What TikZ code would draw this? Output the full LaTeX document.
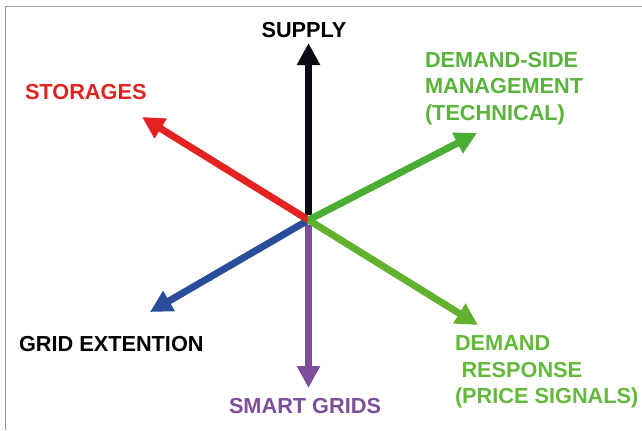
\documentclass[tikz,border=0pt]{standalone}
\usepackage{fontspec}
\setmainfont{Liberation Sans}
\usetikzlibrary{arrows.meta}
\definecolor{cred}{HTML}{E32322}
\definecolor{cblack}{HTML}{0A0A14}
\definecolor{cgreenA}{HTML}{4BAE34}
\definecolor{cgreenB}{HTML}{62B22F}
\definecolor{cblue}{HTML}{2A4D9B}
\definecolor{cpurple}{HTML}{7D4F9B}
\definecolor{tgreenA}{HTML}{5AB43C}
\definecolor{tgreenB}{HTML}{63B93A}
\definecolor{cframe}{HTML}{9A9A9A}
\tikzset{
  arrowline/.style={line width=7bp, -{Triangle[length=22bp,width=22bp]}},
  lbl/.style={inner sep=0pt, outer sep=0pt, font=\fontsize{21.8}{26.3}\selectfont\bfseries, align=left},
}
\begin{document}
\begin{tikzpicture}[x=1bp,y=-1bp]
\useasboundingbox (0,0) rectangle (642,430);
\fill[white] (0,0) rectangle (642,430);
\draw[cframe, line width=1.6bp] (5.5,430) -- (5.5,6.5) -- (642,6.5);
\coordinate (c) at (308.5,220);
\coordinate (tsup) at (308.5,43);
\coordinate (tsto) at (142,117);
\coordinate (tdsm) at (477,133);
\coordinate (tdr) at (478,325);
\coordinate (tgrid) at (150,312);
\coordinate (tsmart) at (308.5,388);
\draw[arrowline, cblack, shorten <=5bp] (c) -- (tsup);
\draw[arrowline, cpurple, shorten <=5bp] (c) -- (tsmart);
\draw[arrowline, cblue] (c) -- (tgrid);
\draw[arrowline, cred] (c) -- (tsto);
\draw[arrowline, cgreenB] (c) -- (tdr);
\draw[arrowline, cgreenA] (c) -- (tdsm);
\node[lbl, anchor=base, text=black] (sup) at (304,37) {SUPPLY};
\node[lbl, anchor=base west, text=cred] (sto) at (25,99) {STORAGES};
\node[lbl, anchor=north west, text=tgreenA] (dsm) at (425,52.5) {DEMAND-SIDE\\MANAGEMENT\\(TECHNICAL)};
\node[lbl, anchor=base west, text=black] (grid) at (19,351) {GRID EXTENTION};
\node[lbl, anchor=base west, text=cpurple] (smart) at (229,413) {SMART GRIDS};
\node[lbl, anchor=north west, text=tgreenB] (dr) at (455,336) {DEMAND\\\hspace*{6.5bp}RESPONSE\\(PRICE SIGNALS)};
\end{tikzpicture}
\end{document}
